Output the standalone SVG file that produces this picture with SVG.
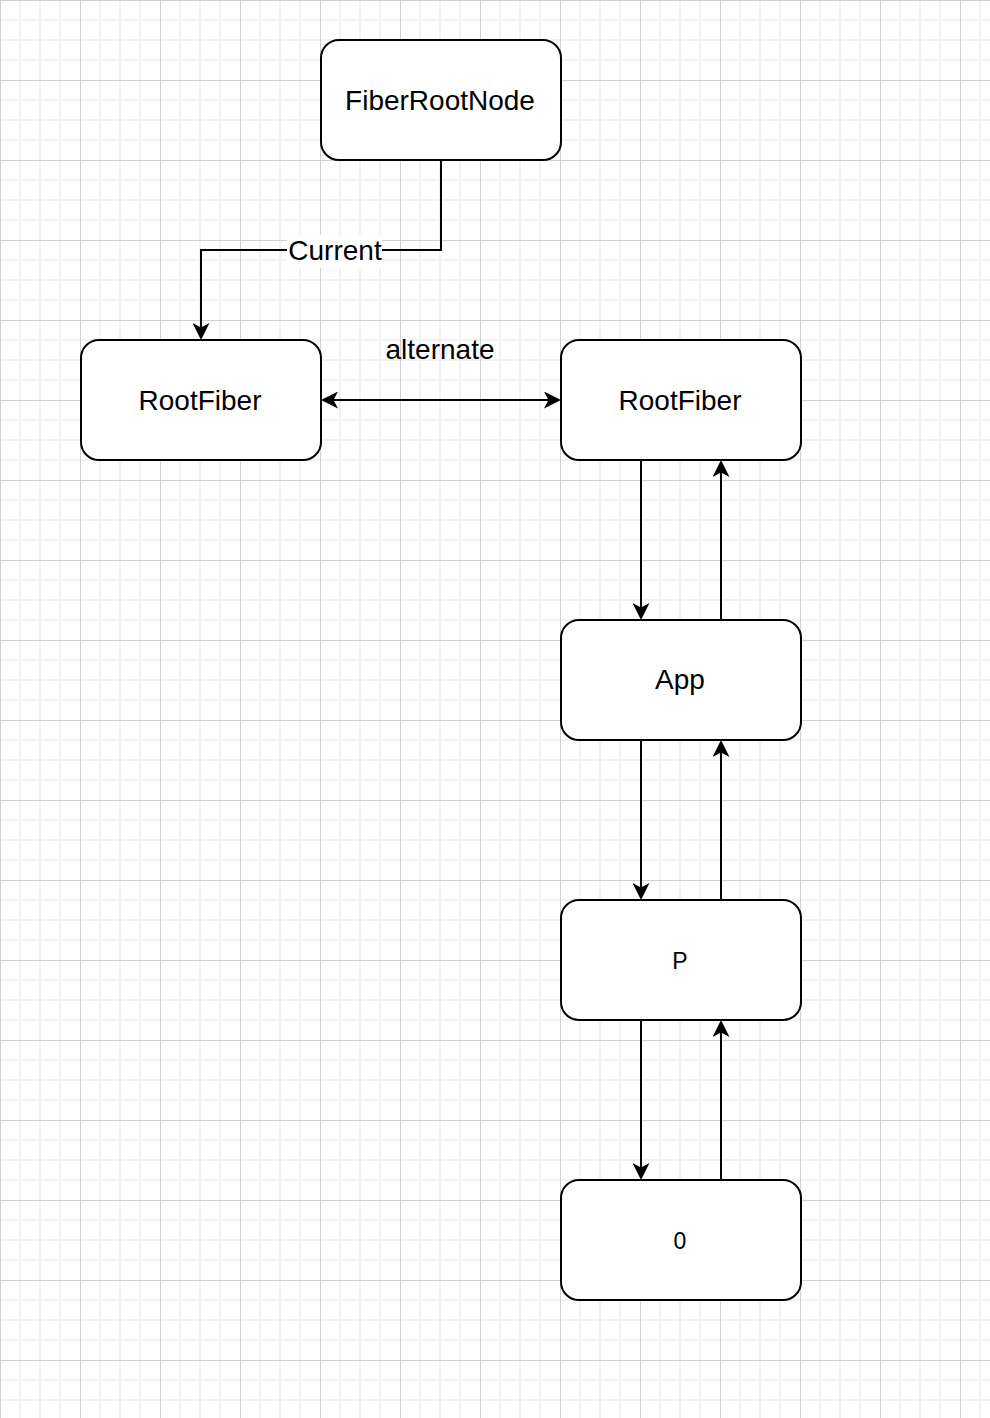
<svg xmlns="http://www.w3.org/2000/svg" width="990" height="1418" viewBox="0 0 990 1418">
  <style>
    .box { fill: #ffffff; stroke: #000000; stroke-width: 2; }
    .lbl { font-family: "Liberation Sans", Helvetica, Arial, sans-serif; font-size: 28px; fill: #000000; text-anchor: middle; }
    .sm { font-size: 23px; }
    .edge { fill: none; stroke: #000000; stroke-width: 2; }
  </style>
  <defs>
    <pattern id="grid" x="0" y="0" width="80" height="80" patternUnits="userSpaceOnUse">
      <rect x="0" y="0" width="80" height="80" fill="#ffffff"/>
      <rect x="19" y="0" width="2" height="80" fill="#f2f2f2"/>
      <rect x="39" y="0" width="2" height="80" fill="#f2f2f2"/>
      <rect x="59" y="0" width="2" height="80" fill="#f2f2f2"/>
      <rect x="0" y="19" width="80" height="2" fill="#f2f2f2"/>
      <rect x="0" y="39" width="80" height="2" fill="#f2f2f2"/>
      <rect x="0" y="59" width="80" height="2" fill="#f2f2f2"/>
      <rect x="0" y="0" width="1" height="80" fill="#d0d0d0"/>
      <rect x="0" y="0" width="80" height="1" fill="#d0d0d0"/>
    </pattern>
    <marker id="arrow" viewBox="0 0 17 17" refX="5" refY="8.5" markerWidth="17" markerHeight="17" markerUnits="userSpaceOnUse" orient="auto-start-reverse">
      <path d="M17,8.5 L0,0 L4.5,8.5 L0,17 Z" fill="#000000"/>
    </marker>
  </defs>
  <rect x="0" y="0" width="990" height="1418" fill="url(#grid)"/>

  <g id="connectors">
    <path class="edge" d="M441,160 V250 H201 V328" marker-end="url(#arrow)"/>
    <rect x="287" y="235" width="95" height="33" fill="#ffffff"/>
    <text class="lbl" x="335" y="260">Current</text>
    <path class="edge" d="M333,400 H549" marker-start="url(#arrow)" marker-end="url(#arrow)"/>
    <text class="lbl" x="440" y="359">alternate</text>
    <path class="edge" d="M641,460 V608" marker-end="url(#arrow)"/>
    <path class="edge" d="M721,620 V472" marker-end="url(#arrow)"/>
    <path class="edge" d="M641,740 V888" marker-end="url(#arrow)"/>
    <path class="edge" d="M721,900 V752" marker-end="url(#arrow)"/>
    <path class="edge" d="M641,1020 V1168" marker-end="url(#arrow)"/>
    <path class="edge" d="M721,1180 V1032" marker-end="url(#arrow)"/>
  </g>

  <g id="fiberRootNode">
    <rect class="box" x="321" y="40" width="240" height="120" rx="18" ry="18"/>
    <text class="lbl" x="440" y="109.5">FiberRootNode</text>
  </g>
  <g id="rootFiberLeft">
    <rect class="box" x="81" y="340" width="240" height="120" rx="18" ry="18"/>
    <text class="lbl" x="200" y="409.5">RootFiber</text>
  </g>
  <g id="rootFiberRight">
    <rect class="box" x="561" y="340" width="240" height="120" rx="18" ry="18"/>
    <text class="lbl" x="680" y="409.5">RootFiber</text>
  </g>
  <g id="app">
    <rect class="box" x="561" y="620" width="240" height="120" rx="18" ry="18"/>
    <text class="lbl" x="680" y="689">App</text>
  </g>
  <g id="p">
    <rect class="box" x="561" y="900" width="240" height="120" rx="18" ry="18"/>
    <text class="lbl sm" x="680" y="968.5">P</text>
  </g>
  <g id="zero">
    <rect class="box" x="561" y="1180" width="240" height="120" rx="18" ry="18"/>
    <text class="lbl sm" x="680" y="1248.5">0</text>
  </g>
</svg>
